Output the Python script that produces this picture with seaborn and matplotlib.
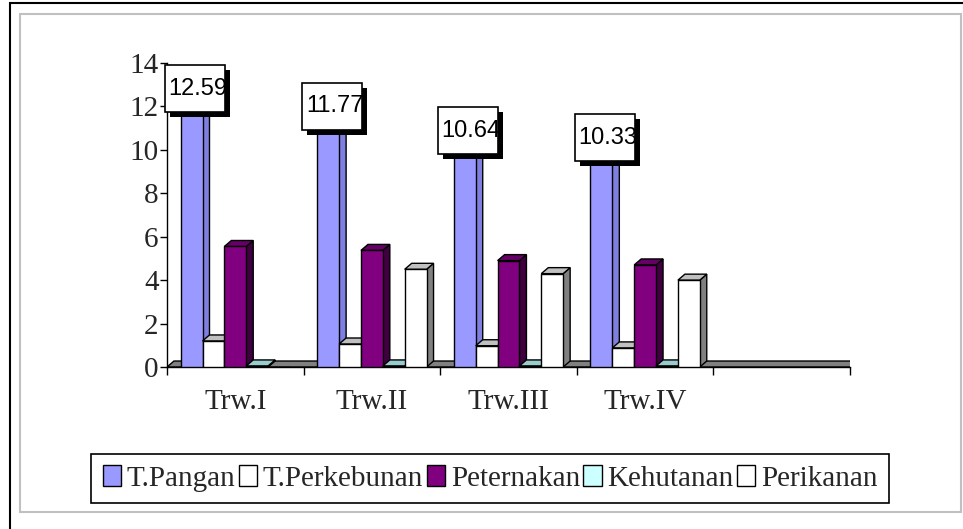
import numpy as np
import pandas as pd
import matplotlib
matplotlib.use("Agg")
import matplotlib.pyplot as plt
import matplotlib.patheffects as pe
import seaborn as sns
from matplotlib.patches import Polygon, Rectangle, Patch
from matplotlib.path import Path

# values (quarters of the year)
quarters = ["Trw.I", "Trw.II", "Trw.III", "Trw.IV"]
slots = quarters + [" "]          # empty fifth slot on the category axis
sectors = ["T.Pangan", "T.Perkebunan", "Peternakan", "Kehutanan", "Perikanan"]
pangan = [12.59, 11.77, 10.64, 10.33]
perkebunan = [1.2, 1.06, 0.98, 0.88]
peternakan = [5.55, 5.37, 4.9, 4.7]
kehutanan = [0.05, 0.05, 0.05, 0.05]
perikanan = [0.0, 4.5, 4.3, 4.0]

front_colors = ["#9999FF", "#FFFFFF", "#800080", "#CCFFFF", "#FFFFFF"]
top_colors = ["#8C8CF0", "#C0C0C0", "#660066", "#99CCCC", "#C0C0C0"]
side_colors = ["#7F7FE0", "#808080", "#400040", "#669999", "#808080"]

rows = []
for name, vals in zip(sectors, [pangan, perkebunan, peternakan, kehutanan, perikanan]):
    for q, v in zip(quarters, vals):
        rows.append({"quarter": q, "sector": name, "value": v})
df = pd.DataFrame(rows)

sns.set_style("white")
plt.rcParams["font.family"] = ["Liberation Serif", "DejaVu Serif"]

fig = plt.figure(figsize=(9.63, 5.29), dpi=100)
ax = fig.add_axes([0.1734, 0.3062, 0.7093, 0.5747])

sns.barplot(data=df, x="quarter", y="value", hue="sector", order=slots,
            hue_order=sectors, palette=front_colors, saturation=1, width=0.8,
            edgecolor="black", linewidth=1, legend=False, ax=ax)

ax.set_xlim(-0.5, 4.5)
ax.set_ylim(0, 14)
ax.set_yticks(range(0, 15, 2))
ax.set_xticks(range(len(slots)))
ax.set_xticklabels(slots)
ax.set_xticks(np.arange(-0.5, len(slots), 1), minor=True)
ax.set_xlabel("")
ax.set_ylabel("")
ax.tick_params(axis="y", left=True, direction="out", length=5, width=1, pad=1,
               labelsize=21, color="black")
ax.tick_params(axis="x", which="major", bottom=True, length=0, pad=16, labelsize=21)
ax.tick_params(axis="x", which="minor", bottom=True, length=6, width=1, direction="out",
               color="black")
for s in ["top", "right"]:
    ax.spines[s].set_visible(False)
for s in ["left", "bottom"]:
    ax.spines[s].set_color("black")
    ax.spines[s].set_linewidth(1)

# pseudo 3D depth, in pixels
DX, DY = 7, 6
to_px = ax.transData.transform
to_data = ax.transData.inverted().transform


def shifted(pts):
    p = to_px(np.array(pts, dtype=float))
    return to_data(p + np.array([DX, DY]))


# floor slab
floor = [(-0.5, 0), (4.5, 0)]
fp = np.vstack([floor, shifted(floor)[::-1]])
ax.add_patch(Polygon(fp, closed=True, fc="#808080", ec="black", lw=1, zorder=2.4))

for k, cont in enumerate(ax.containers):
    for bar in cont:
        h = bar.get_height()
        x0, w = bar.get_x(), bar.get_width()
        slot = int(round(x0 + w / 2 + 0.4))
        rank = slot * 5 + k
        bar.set_zorder(3 + 2 * rank + 1)
        if not np.isfinite(h) or h <= 0:
            continue
        tl, tr, br = (x0, h), (x0 + w, h), (x0 + w, 0)
        side = np.vstack([[br, tr], shifted([tr, br])])
        top = np.vstack([[tl, tr], shifted([tr, tl])])
        ax.add_patch(Polygon(side, closed=True, fc=side_colors[k], ec="black",
                             lw=1, zorder=3 + 2 * rank))
        ax.add_patch(Polygon(top, closed=True, fc=top_colors[k], ec="black",
                             lw=1, zorder=3 + 2 * rank))


def label_box(x0, y0, width, height, mutation_size):
    cx = x0 + width / 2 - 3
    cy = y0 + height / 2
    bw, bh = 60, 47
    verts = [(cx - bw / 2, cy - bh / 2), (cx + bw / 2, cy - bh / 2),
             (cx + bw / 2, cy + bh / 2), (cx - bw / 2, cy + bh / 2),
             (cx - bw / 2, cy - bh / 2)]
    return Path(verts, closed=True)


# value labels on the T.Pangan bars, box with a drop shadow
for bar, v in zip(ax.containers[0], pangan):
    bx = bar.get_x() + bar.get_width() / 2
    ann = ax.annotate(f"{v:.2f}", xy=(bx, v), xytext=(DX / 2 + 3, 5),
                      textcoords="offset pixels", ha="center", va="center",
                      fontsize=17, family="Liberation Sans", color="black",
                      bbox=dict(boxstyle=label_box, fc="white", ec="black", lw=1.2),
                      zorder=81)
    ann.get_bbox_patch().set_path_effects([
        pe.SimplePatchShadow(offset=(3.6, -3.6), shadow_rgbFace="black", alpha=1),
        pe.Normal()])

# outer frames
fig.add_artist(Rectangle((10 / 963, -0.1), 1.2, 1.1 - 3 / 529, transform=fig.transFigure,
                         fill=False, ec="black", lw=1.5))
fig.add_artist(Rectangle((20 / 963, 1 - 512 / 529), 941 / 963, 498 / 529,
                         transform=fig.transFigure, fill=False, ec="#C0C0C0", lw=1.5))

handles = [Patch(fc=c, ec="black", lw=1) for c in front_colors]
leg = fig.legend(handles, sectors, loc="center", bbox_to_anchor=(0.509, 0.0955),
                 ncol=5, frameon=True, fancybox=False, edgecolor="black", framealpha=1,
                 fontsize=21, handlelength=0.62, handleheight=0.7, handletextpad=0.2,
                 columnspacing=0.12, borderpad=0.4, borderaxespad=0)
leg.get_frame().set_linewidth(1.2)

fig.savefig("out.png", dpi=100)
